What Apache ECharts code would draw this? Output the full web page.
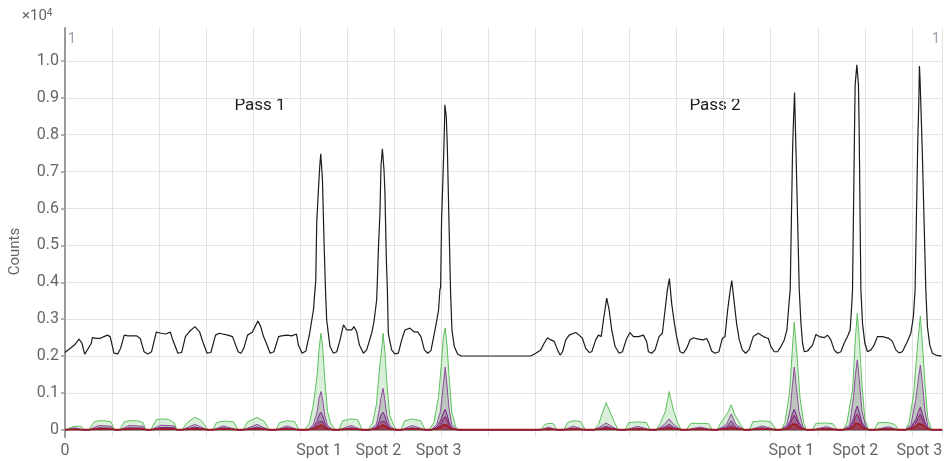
<!DOCTYPE html>
<html>
<head>
<meta charset="utf-8">
<script src="https://cdn.jsdelivr.net/npm/echarts@6.0.0/dist/echarts.min.js"></script>
<style>
  html, body { margin: 0; padding: 0; background: #fff; }
  #main { width: 946px; height: 461px; }
</style>
</head>
<body>
<div id="main"></div>
<script>
// x axis labels (scan position units, grid every 50)
const xTickValues = [0, 270, 333, 397, 772, 840, 908];
const xTickLabels = ['0', 'Spot 1', 'Spot 2', 'Spot 3', 'Spot 1', 'Spot 2', 'Spot 3'];
const yTickValues = [0, 1000, 2000, 3000, 4000, 5000, 6000, 7000, 8000, 9000, 10000];

// total counts (black line), [position, counts]
const totalCounts = [
  [0,2100],[2,2140],[10,2300],[15,2460],[18,2350],[21,2050],[23,2030],[28,2350],[29,2500],[33,2480],
  [37,2480],[45,2570],[48,2530],[52,2080],[56,2060],[59,2210],[63,2570],[67,2550],[72,2550],[76,2550],
  [80,2480],[84,2120],[88,2060],[92,2120],[97,2650],[102,2620],[107,2600],[112,2650],[114,2480],[120,2080],
  [124,2100],[128,2530],[132,2660],[138,2800],[143,2660],[147,2350],[151,2080],[155,2100],[160,2570],[164,2620],
  [173,2570],[178,2530],[184,2120],[187,2080],[190,2210],[194,2570],[199,2650],[202,2800],[205,2950],[208,2800],
  [211,2530],[214,2350],[218,2080],[222,2120],[227,2530],[230,2550],[236,2570],[241,2550],[246,2600],[248,2300],
  [252,2080],[256,2140],[260,2620],[264,3250],[266.5,4060],[267.5,5610],[269.3,6500],[270.7,7140],[271.8,7480],[273.6,6780],
  [275.3,5070],[277.1,3610],[278.1,2980],[281.6,2260],[285.3,2080],[288.8,2120],[292.3,2440],[295.9,2850],[299.4,2710],[304.7,2710],
  [307.1,2800],[310,2660],[312.9,2300],[317.1,2080],[320.6,2170],[325.9,2620],[328.4,2940],[331.2,3520],[332,4060],[333,4880],
  [334.7,5880],[335.8,7140],[337.3,7620],[339,7050],[340,6420],[341.5,4610],[342.6,3790],[343.6,2620],[347.1,2170],[350.6,2060],
  [354.3,2080],[357.8,2440],[361.3,2710],[366.6,2760],[370.8,2660],[374.7,2660],[378.3,2530],[381.9,2170],[385.4,2080],[388.9,2150],
  [392.5,2620],[394.9,2940],[397,3250],[398.4,3790],[399.2,3880],[400.2,5690],[401.6,6780],[402.7,7680],[403.4,8400],[403.7,8810],
  [405.2,8490],[406.3,7680],[408,5690],[409.8,3700],[411.2,2710],[413.7,2260],[417.2,2060],[420.7,2010],[495,2005],[500.3,2080],
  [505.6,2170],[509.2,2350],[512.8,2500],[516.3,2440],[519.9,2400],[523.4,2170],[526.2,2030],[528.7,2120],[532.2,2440],[535.8,2570],
  [542.8,2640],[546.4,2570],[549.9,2480],[553.4,2210],[557,2100],[559.8,2120],[564,2440],[566.9,2570],[569.8,2530],[572.2,2980],
  [575.7,3570],[578.3,3250],[581,2710],[584.6,2260],[588.9,2080],[592.4,2120],[596.9,2480],[600.5,2640],[604,2530],[609.4,2530],
  [614.7,2570],[618.2,2390],[620,2120],[623.5,2080],[627.1,2170],[631.3,2530],[634.8,2620],[637.7,3250],[640.1,3790],[642.3,4100],
  [644.7,3430],[647.6,2890],[650,2530],[653.6,2120],[657.1,2080],[660.6,2210],[664.2,2440],[667.7,2500],[673.1,2460],[678.4,2440],
  [681.9,2480],[684.4,2350],[687.2,2140],[690.8,2080],[695,2120],[698.5,2480],[701.4,2530],[704.2,3250],[706.7,3750],[708.6,4050],
  [711.3,3430],[713.7,2890],[716.6,2440],[719.8,2170],[723.3,2080],[726.9,2170],[731.4,2530],[736.8,2620],[742.1,2530],[747.4,2480],
  [750.2,2260],[753.7,2120],[757.2,2120],[760.8,2260],[764.4,2440],[767.2,2710],[769.7,3520],[770.7,3790],[773.2,7590],[774.2,8400],
  [775.3,9140],[776.8,7590],[780.3,3790],[782.1,2890],[783.8,2350],[785.6,2120],[789.1,2140],[794.4,2300],[798,2590],[801.5,2530],
  [806.8,2500],[810.3,2570],[813.9,2440],[817.4,2170],[820.9,2080],[824.5,2120],[828,2350],[831.6,2530],[834.4,2710],[836.2,3430],
  [836.9,3790],[839,8040],[839.7,9350],[841.5,9890],[843.2,9350],[844,8050],[845.8,3790],[847.5,2890],[850,2350],[852.8,2120],
  [856.4,2170],[859.9,2300],[863.4,2530],[868.7,2530],[875.8,2480],[879.3,2400],[882.9,2170],[886.4,2090],[889.9,2120],[895.2,2400],
  [898.9,2620],[901.6,3070],[903.4,3790],[906.3,7860],[907.4,8940],[908,9860],[908.7,9490],[909.8,8590],[911.2,7410],[914.8,3790],
  [916.5,2800],[919,2300],[921.8,2080],[925.4,2030],[931.3,2000]
];

// widest element channel (green)
const greenCounts = [
  [0,0],[4,50],[10,100],[17,100],[21,0],[25,0],[31,220],[36,250],[42,250],[49,220],[53,0],[58,0],[63,220],[68,250],
  [77,250],[83,200],[86,0],[91,0],[97,280],[102,300],[110,290],[116,200],[119,0],[124,0],[130,200],[138,350],[145,250],
  [152,0],[157,0],[161,200],[164,220],[172,240],[179,220],[184,0],[189,0],[194,220],[204,340],[212,230],[217,0],[224,0],
  [228,200],[236,250],[244,230],[249,0],[255,0],[260,200],[264,700],[268,1500],[270,2200],[272,2620],[274,2200],[276,1400],
  [279,500],[282,200],[287,0],[291,0],[295,250],[304,300],[311,280],[316,0],[322,0],[327,200],[331,700],[334,1600],
  [337,2300],[338,2620],[340,2100],[342,1300],[345,400],[349,150],[352,0],[357,0],[361,250],[369,300],[378,250],[383,0],
  [387,0],[392,200],[397,900],[400,1800],[402,2500],[404,2760],[406,2300],[408,1500],[411,500],[415,100],[418,0],[505,0],
  [510,150],[514,180],[519,170],[523,0],[530,0],[534,200],[540,250],[548,230],[553,0],[562,0],[567,150],[571,450],
  [575,740],[580,450],[584,200],[588,0],[595,0],[599,200],[609,220],[618,200],[622,0],[628,0],[633,200],[638,500],
  [642,1040],[647,500],[651,200],[655,0],[660,0],[665,180],[675,180],[684,170],[688,0],[693,0],[697,200],[704,450],
  [708,680],[712,400],[718,150],[722,0],[727,0],[731,220],[741,250],[750,220],[756,0],[761,0],[765,200],[770,1000],
  [773,2200],[775,2920],[778,2000],[781,900],[785,200],[788,0],[794,0],[798,180],[809,190],[816,170],[821,0],[827,0],
  [831,200],[837,1100],[840,2500],[842,3160],[844,2500],[847,1200],[850,300],[854,0],[860,0],[864,200],[875,200],
  [882,150],[886,0],[893,0],[897,200],[902,1000],[906,2300],[909,3090],[911,2400],[914,1200],[917,300],[921,0],[932,0]
];

// positions shared by the narrower channels
const innerX = [
  0,10,21, 25,36,49,53, 58,68,83,86, 91,102,116,119, 124,138,152, 157,168,184, 189,204,217, 224,236,249,
  258,264,268,270,272,274,276,279,285,
  291,304,316,
  324,331,334,336,338,340,342,345,351,
  357,369,383,
  389,395,399,402,404,406,408,411,417,
  505,514,523, 530,540,553,
  562,571,575,580,588,
  595,609,622,
  628,637,642,647,655,
  660,675,688,
  693,703,708,713,722,
  727,741,756,
  761,767,771,773,775,777,780,784,788,
  794,809,821,
  827,834,838,840,842,844,847,851,854,
  860,875,886,
  893,899,904,907,909,911,914,917,921,
  932
];
const purpleCounts = [
  0,60,0, 0,120,100,0, 0,120,100,0, 0,130,110,0, 0,150,0, 0,110,0, 0,150,0, 0,110,0,
  0,150,500,850,1040,800,400,120,0,
  0,120,0,
  0,150,550,900,1130,800,400,120,0,
  0,120,0,
  0,150,500,1200,1700,1200,600,150,0,
  0,80,0, 0,100,0,
  0,120,190,110,0,
  0,100,0,
  0,150,300,140,0,
  0,80,0,
  0,150,430,150,0,
  0,110,0,
  0,150,600,1200,1700,1200,500,100,0,
  0,90,0,
  0,150,900,1500,1900,1400,500,100,0,
  0,90,0,
  0,150,800,1400,1760,1300,500,100,0,
  0
];
const violetCounts = [
  0,30,0, 0,60,50,0, 0,60,50,0, 0,70,60,0, 0,80,0, 0,60,0, 0,80,0, 0,60,0,
  0,80,250,400,480,380,200,60,0,
  0,60,0,
  0,80,250,420,480,380,200,60,0,
  0,60,0,
  0,80,250,450,560,420,220,60,0,
  0,40,0, 0,50,0,
  0,60,100,60,0,
  0,50,0,
  0,80,150,70,0,
  0,40,0,
  0,80,250,80,0,
  0,60,0,
  0,80,250,450,560,420,200,50,0,
  0,50,0,
  0,80,300,520,650,480,200,50,0,
  0,50,0,
  0,80,280,500,620,450,200,50,0,
  0
];
const plumCounts = [
  0,20,0, 0,40,30,0, 0,40,30,0, 0,40,40,0, 0,50,0, 0,40,0, 0,50,0, 0,40,0,
  0,50,150,230,280,220,120,40,0,
  0,40,0,
  0,50,150,230,270,220,120,40,0,
  0,40,0,
  0,50,150,300,360,280,140,40,0,
  0,30,0, 0,30,0,
  0,40,60,40,0,
  0,30,0,
  0,50,90,40,0,
  0,30,0,
  0,50,130,50,0,
  0,40,0,
  0,50,180,320,400,300,130,30,0,
  0,30,0,
  0,50,200,360,430,320,130,30,0,
  0,30,0,
  0,50,190,340,420,300,130,30,0,
  0
];
const redCounts = [
  10,15,10, 10,25,25,10, 10,25,25,10, 10,25,25,10, 10,30,10, 10,25,10, 10,30,10, 10,25,10,
  10,30,80,120,140,110,70,25,10,
  10,25,10,
  10,30,80,120,140,110,70,25,10,
  10,25,10,
  10,30,80,140,170,130,70,25,10,
  10,20,10, 10,20,10,
  10,25,40,25,10,
  10,20,10,
  10,30,50,25,10,
  10,20,10,
  10,30,60,30,10,
  10,25,10,
  10,30,90,160,200,150,70,25,10,
  10,20,10,
  10,30,100,180,220,160,70,25,10,
  10,20,10,
  10,30,100,170,210,150,70,25,10,
  10
];

const pairUp = ys => innerX.map((x, i) => [x, ys[i]]);

const chart = echarts.init(document.getElementById('main'));

function channel(name, data, line, fill, width) {
  return {
    name: name,
    type: 'line',
    data: data,
    symbol: 'none',
    silent: true,
    lineStyle: { color: line, width: width || 1 },
    areaStyle: { color: fill },
    z: 2
  };
}

const option = {
  animation: false,
  backgroundColor: '#fff',
  textStyle: { fontFamily: 'Roboto, sans-serif' },
  grid: { left: 64, right: 4, top: 28, bottom: 24, containLabel: false },
  xAxis: {
    type: 'value',
    min: 0,
    max: 932,
    interval: 50,
    axisLine: { show: true, lineStyle: { color: '#9a9a9a', width: 2 } },
    axisTick: { show: false },
    axisLabel: {
      customValues: xTickValues,
      formatter: v => xTickLabels[xTickValues.indexOf(v)] || '',
      color: '#666',
      fontSize: 16,
      margin: 6
    },
    splitLine: { show: true, lineStyle: { color: '#e3e3e3', width: 1 } }
  },
  yAxis: {
    type: 'value',
    min: -190,
    max: 10890,
    name: 'Counts',
    nameLocation: 'middle',
    nameGap: 42,
    nameTextStyle: { color: '#666', fontSize: 15, padding: [0, 38, 0, 0] },
    axisLine: { show: true, lineStyle: { color: '#9a9a9a', width: 2 } },
    axisTick: { show: true, customValues: yTickValues, length: 4, lineStyle: { color: '#9a9a9a', width: 1.5 } },
    axisLabel: {
      customValues: yTickValues,
      formatter: v => (v === 0 ? '0' : (v / 10000).toFixed(1)),
      color: '#666',
      fontSize: 16,
      margin: 6
    },
    splitLine: { show: true, lineStyle: { color: '#e3e3e3', width: 1 } }
  },
  graphic: [
    {
      type: 'text', left: 22, top: 8,
      style: {
        text: '{a|×10}{b|4}',
        rich: {
          a: { fontSize: 15, fill: '#666', fontFamily: 'Roboto' },
          b: { fontSize: 10, fill: '#666', fontFamily: 'Roboto', verticalAlign: 'top', padding: [0, 0, 7, 0] }
        }
      }
    },
    { type: 'text', left: 68, top: 32, style: { text: '1', fontSize: 14, fill: '#9a9aaa', fontFamily: 'Roboto' } },
    { type: 'text', left: 932, top: 32, style: { text: '1', fontSize: 14, fill: '#9a9aaa', fontFamily: 'Roboto' } },
    { type: 'text', x: 260, y: 106, style: { text: 'Pass 1', fontSize: 17, fill: '#222', fontFamily: 'Roboto', align: 'center', verticalAlign: 'middle' } },
    { type: 'text', x: 715, y: 106, style: { text: 'Pass 2', fontSize: 17, fill: '#222', fontFamily: 'Roboto', align: 'center', verticalAlign: 'middle' } }
  ],
  series: [
    channel('Green', greenCounts, '#5cc05c', 'rgba(90,185,90,0.32)'),
    channel('Purple', pairUp(purpleCounts), '#8e4a9c', 'rgba(105,85,115,0.38)'),
    channel('Violet', pairUp(violetCounts), '#7a2088', 'rgba(120,30,135,0.45)'),
    channel('Plum', pairUp(plumCounts), '#8c1c6a', 'rgba(140,25,95,0.5)'),
    channel('Red', pairUp(redCounts), '#a01818', 'rgba(160,20,20,0.7)', 1.5),
    {
      name: 'Total',
      type: 'line',
      data: totalCounts,
      symbol: 'none',
      silent: true,
      lineStyle: { color: '#1c1c1c', width: 1.2 },
      z: 3
    }
  ]
};

chart.setOption(option);
</script>
</body>
</html>
